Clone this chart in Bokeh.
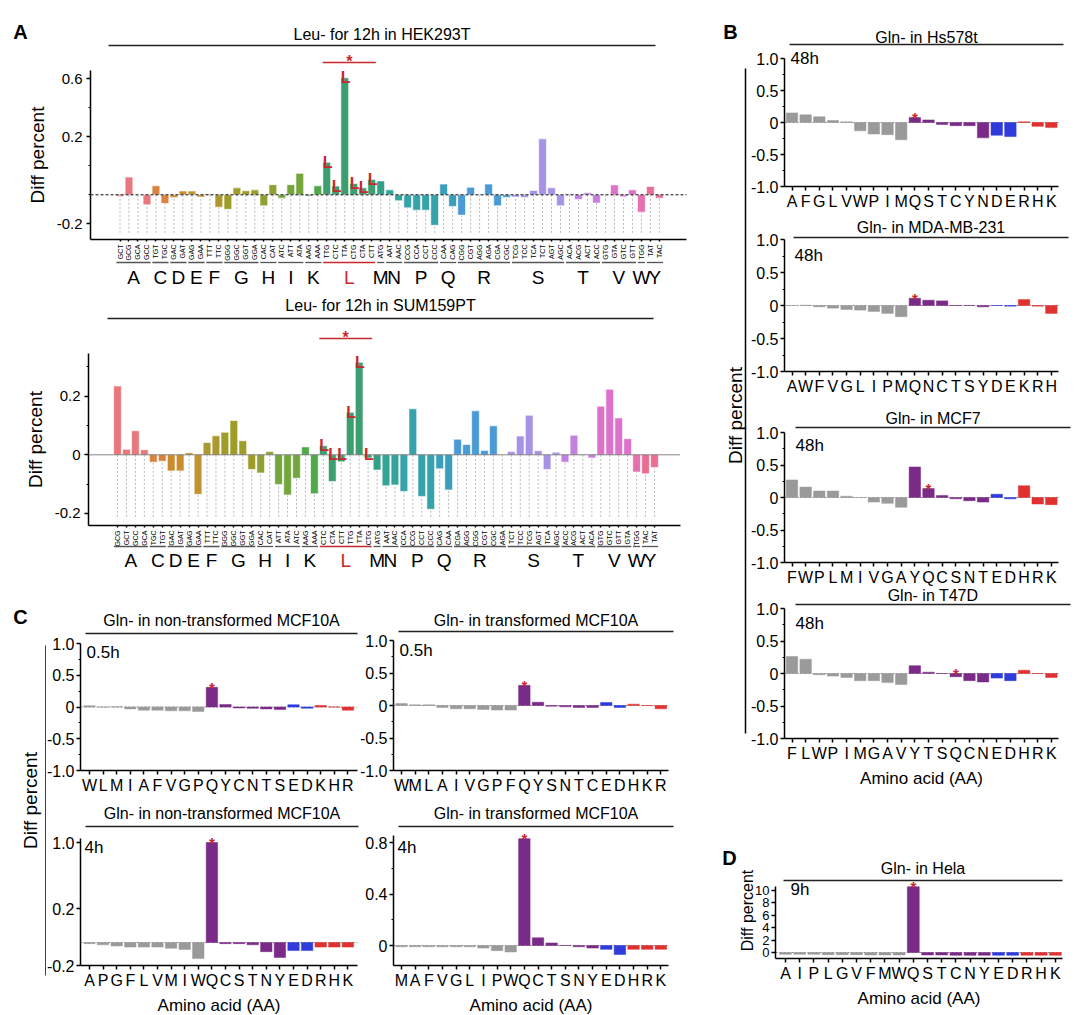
import numpy as np
from bokeh.plotting import figure
from bokeh.models import Range1d, FixedTicker, Label, BoxAnnotation, LinearAxis
from bokeh.layouts import row, column
from bokeh.embed import file_html
from bokeh.resources import INLINE

FONT = "Liberation Sans"
RED = "#C8282C"

# ---------------- data ----------------
GENETIC = {"GCT": "A", "GCC": "A", "GCA": "A", "GCG": "A", "TGT": "C", "TGC": "C", "GAT": "D", "GAC": "D",
           "GAA": "E", "GAG": "E", "TTT": "F", "TTC": "F", "GGT": "G", "GGC": "G", "GGA": "G", "GGG": "G",
           "CAT": "H", "CAC": "H", "ATT": "I", "ATC": "I", "ATA": "I", "AAA": "K", "AAG": "K", "TTA": "L",
           "TTG": "L", "CTT": "L", "CTC": "L", "CTA": "L", "CTG": "L", "ATG": "M", "AAT": "N", "AAC": "N",
           "CCT": "P", "CCC": "P", "CCA": "P", "CCG": "P", "CAA": "Q", "CAG": "Q", "CGT": "R", "CGC": "R",
           "CGA": "R", "CGG": "R", "AGA": "R", "AGG": "R", "TCT": "S", "TCC": "S", "TCA": "S", "TCG": "S",
           "AGT": "S", "AGC": "S", "ACT": "T", "ACC": "T", "ACA": "T", "ACG": "T", "GTT": "V", "GTC": "V",
           "GTA": "V", "GTG": "V", "TGG": "W", "TAT": "Y", "TAC": "Y"}

A1_CODONS = ["GCT", "GCG", "GCA", "GCC", "TGT", "TGC", "GAC", "GAT", "GAG", "GAA", "TTT", "TTC", "GGG", "GGC",
             "GGT", "GGA", "CAC", "CAT", "ATC", "ATT", "ATA", "AAG", "AAA", "TTG", "CTC", "TTA", "CTG", "CTA",
             "CTT", "ATG", "AAT", "AAC", "CCG", "CCA", "CCT", "CCC", "CAA", "CAG", "CGG", "CGT", "AGG", "AGA",
             "CGA", "CGC", "TCG", "TCC", "TCA", "TCT", "AGT", "AGC", "ACA", "ACG", "ACT", "ACC", "GTG", "GTA",
             "GTC", "GTT", "TGG", "TAT", "TAC"]
A1_VALUES = [-0.01, 0.061, 0.0, -0.069, 0.031, -0.06, -0.018, 0.013, 0.013, -0.016, 0.003, -0.085, -0.10,
             0.024, 0.014, 0.017, -0.076, 0.035, -0.023, 0.035, 0.074, -0.009, 0.031, 0.112, 0.030, 0.607,
             0.039, 0.024, 0.053, 0.048, 0.017, -0.041, -0.090, -0.106, -0.106, -0.21, 0.037, -0.08, -0.14,
             0.026, -0.002, 0.037, -0.076, -0.018, -0.016, -0.018, 0.015, 0.193, 0.024, -0.076, 0.002, -0.032,
             0.007, -0.057, 0.001, 0.034, -0.014, 0.017, -0.12, 0.029, -0.023]

A2_CODONS = ["GCG", "GCT", "GCC", "GCA", "TGC", "TGT", "GAC", "GAT", "GAG", "GAA", "TTT", "TTC", "GGG", "GGC",
             "GGT", "GGA", "CAC", "CAT", "ATT", "ATA", "ATC", "AAG", "AAA", "CTC", "CTA", "CTT", "TTG", "TTA",
             "CTG", "ATG", "AAT", "AAC", "CCA", "CCG", "CCT", "CCC", "CAG", "CAA", "CGA", "AGG", "CGG", "CGT",
             "CGC", "AGA", "TCT", "TCC", "TCG", "AGT", "TCA", "AGC", "ACC", "ACG", "ACT", "ACA", "GTG", "GTC",
             "GTT", "GTA", "TGG", "TAC", "TAT"]
A2_VALUES = [0.235, 0.019, 0.082, 0.017, -0.025, -0.022, -0.055, -0.055, 0.007, -0.135, 0.042, 0.065, 0.077,
             0.117, 0.048, -0.05, -0.062, 0.011, -0.101, -0.137, -0.08, 0.027, -0.133, 0.031, -0.091, -0.024,
             0.145, 0.316, -0.011, -0.052, -0.106, -0.103, -0.125, 0.157, -0.142, -0.186, -0.048, -0.12, 0.053,
             0.035, 0.15, 0.015, 0.099, 0.0, 0.011, 0.064, 0.135, 0.014, -0.05, 0.009, -0.025, 0.067, 0.002,
             -0.011, 0.166, 0.224, 0.126, 0.055, -0.059, -0.065, -0.043]

B1_AA = list("AFGLVWPIMQSTCYNDERHK")
B1_VALUES = [0.15, 0.12, 0.09, 0.03, 0.01, -0.13, -0.18, -0.19, -0.27, 0.08, 0.04, -0.03, -0.05, -0.05, -0.24,
             -0.20, -0.22, 0.01, -0.06, -0.08]
B2_AA = list("AWFVGLIPMQNCTSYDEKRH")
B2_VALUES = [0.0, 0.005, -0.02, -0.04, -0.06, -0.07, -0.09, -0.12, -0.17, 0.11, 0.08, 0.07, 0.0, 0.0, -0.02,
             0.0, -0.01, 0.09, -0.01, -0.12]
B3_AA = list("FWPLMIVGAYQCSNTEDHRK")
B3_VALUES = [0.27, 0.16, 0.10, 0.10, 0.02, 0.0, -0.07, -0.09, -0.15, 0.47, 0.14, 0.03, -0.02, -0.05, -0.07,
             0.05, -0.02, 0.18, -0.10, -0.11]
B4_AA = list("FLWPIMGAVYTSQCNEDHRK")
B4_VALUES = [0.26, 0.22, -0.02, -0.04, -0.06, -0.11, -0.11, -0.14, -0.17, 0.12, 0.02, 0.0, -0.05, -0.11, -0.13,
             -0.07, -0.11, 0.05, 0.0, -0.06]
C1_AA = list("WLMIAFVGPQYCNTSEDKHR")
C1_VALUES = [0.02, 0.0, 0.005, -0.03, -0.05, -0.05, -0.06, -0.06, -0.07, 0.31, 0.04, -0.015, -0.02, -0.03,
             -0.04, 0.035, -0.02, 0.025, 0.0, -0.05]
C2_AA = list("WMLAIVGPFQYSNTCEDHKR")
C2_VALUES = [0.03, 0.01, 0.01, -0.03, -0.05, -0.05, -0.06, -0.07, -0.07, 0.31, 0.05, -0.01, -0.02, -0.03,
             -0.03, 0.045, -0.03, 0.02, 0.0, -0.05]
C3_AA = list("APGFLVMIWQCSTNYEDRHK")
C3_VALUES = [-0.01, -0.02, -0.03, -0.04, -0.04, -0.04, -0.05, -0.06, -0.14, 1.0, -0.01, -0.01, -0.02, -0.08,
             -0.13, -0.07, -0.07, -0.04, -0.04, -0.04]
C4_AA = list("MAFVGLIPWQCTSNYEDHRK")
C4_VALUES = [-0.01, -0.01, -0.01, -0.01, -0.01, -0.01, -0.02, -0.04, -0.05, 0.83, 0.06, 0.02, 0.0, -0.01,
             -0.02, -0.03, -0.07, -0.03, -0.03, -0.03]
D_AA = list("AIPLGVFMWQSTCNYEDRHK")
D_VALUES = [-0.3, -0.3, -0.3, -0.35, -0.35, -0.35, -0.4, -0.4, -0.4, 10.6, -0.4, -0.4, -0.45, -0.45, -0.45,
            -0.45, -0.45, -0.45, -0.45, -0.45]

AA_COLORS = {"A": "#E7787E", "C": "#DA8240", "D": "#CC8C2E", "E": "#C29330", "F": "#AD9830", "G": "#9E9D2A",
             "H": "#8EA233", "I": "#74A63D", "K": "#4FA84B", "L": "#3D9E6F", "M": "#33A085", "N": "#34A398",
             "P": "#36A2A9", "Q": "#399FBB", "R": "#4A9AD6", "S": "#A693E6", "T": "#C480DF", "V": "#DD72CB",
             "W": "#E570B1", "Y": "#E86F92"}
CLASS_COLORS = {}
for _a in "AFGLVWPIM":
    CLASS_COLORS[_a] = "#9A9A9A"
for _a in "QSTCYN":
    CLASS_COLORS[_a] = "#7A2A87"
for _a in "DE":
    CLASS_COLORS[_a] = "#2F3BDB"
for _a in "RHK":
    CLASS_COLORS[_a] = "#E03131"


# ---------------- geometry helper ----------------
class Geo:
    """Figure box (L, T, W, H) on the page; index-0 bar at X0 with spacing dx;
    value 0 at pixel row Y0 with k pixels per unit; axis corner and extents."""

    def __init__(self, L, T, W, H, X0, dx, Y0, k, axX, axR, axT, axB):
        self.L, self.T, self.W, self.H = L, T, W, H
        self.X0, self.dx, self.Y0, self.k = X0, dx, Y0, k
        self.axX, self.axR, self.axT, self.axB = axX, axR, axT, axB

    def xd(self, X):
        return (X - self.X0) / self.dx

    def yd(self, Y):
        return (self.Y0 - Y) / self.k


def make_fig(g):
    p = figure(width=g.W, height=g.H, x_range=Range1d(g.xd(g.L), g.xd(g.L + g.W)),
               y_range=Range1d(g.yd(g.T + g.H), g.yd(g.T)), output_backend="svg", toolbar_location=None,
               title=None, min_border=0, x_axis_location=None, y_axis_location=None)
    p.outline_line_color = None
    p.grid.visible = False
    p.background_fill_color = "white"
    p.border_fill_color = "white"
    return p


def style_axis(ax, size):
    ax.axis_line_color = "black"
    ax.axis_line_width = 1.5
    ax.major_tick_line_color = "black"
    ax.major_tick_line_width = 1.5
    ax.major_tick_in = 0
    ax.major_tick_out = 4
    ax.minor_tick_line_color = "black"
    ax.minor_tick_line_width = 1.2
    ax.minor_tick_in = 0
    ax.minor_tick_out = 2
    ax.major_label_standoff = 2
    ax.major_label_text_font = FONT
    ax.major_label_text_font_size = f"{size}px"
    ax.major_label_text_color = "black"
    ax.axis_label_text_font = FONT
    ax.axis_label_text_font_style = "normal"
    ax.axis_label_text_color = "black"


def add_axes(p, g, cats, ytick_pos, ytick_labels, yminor, xsize, ysize):
    yax = LinearAxis(fixed_location=g.xd(g.axX), bounds=(g.yd(g.axB), g.yd(g.axT)),
                     ticker=FixedTicker(ticks=list(ytick_pos), minor_ticks=list(yminor)),
                     major_label_overrides={float(t): lab for t, lab in zip(ytick_pos, ytick_labels)})
    style_axis(yax, ysize)
    p.add_layout(yax, "left")
    n = len(cats)
    xax = LinearAxis(fixed_location=g.yd(g.axB), bounds=(g.xd(g.axX), g.xd(g.axR)),
                     ticker=FixedTicker(ticks=list(range(n)), minor_ticks=[]),
                     major_label_overrides={i: c for i, c in enumerate(cats)})
    style_axis(xax, xsize)
    p.add_layout(xax, "below")
    return xax, yax


def txt(p, g, X, Y, text, size, color="black", align="center", baseline="middle", bold=False, angle=0.0):
    p.add_layout(Label(x=g.xd(X), y=g.yd(Y), text=text, text_font=FONT, text_font_size=f"{size}px",
                       text_color=color, text_align=align, text_baseline=baseline,
                       text_font_style="bold" if bold else "normal", angle=angle))


def hline(p, g, X0, X1, Y, color="#222222", w=1.5):
    p.add_layout(BoxAnnotation(left=g.xd(X0), right=g.xd(X1), bottom=g.yd(Y + w / 2), top=g.yd(Y - w / 2),
                               fill_color=color, fill_alpha=1.0, line_alpha=0.0))


def idx_hline(p, g, x0, x1, Y, color, w=1.3):
    p.add_layout(BoxAnnotation(left=x0, right=x1, bottom=g.yd(Y + w / 2), top=g.yd(Y - w / 2),
                               fill_color=color, fill_alpha=1.0, line_alpha=0.0))


def codon_panel(g, codons, vals, av, ap, major_v, minor_p, floor_p, zero_dash, title, title_y,
                tl_x0, tl_x1, tl_y, red_y, ul_y, let_y):
    n = len(codons)
    idx = np.arange(n)
    pos = np.interp(vals, av, ap)
    p = make_fig(g)
    p.segment(x0=idx, y0=np.zeros(n), x1=idx, y1=np.full(n, floor_p), line_color="#b8b8b8",
              line_dash="2 2", line_width=1)
    aas = [GENETIC[c] for c in codons]
    cols = [AA_COLORS[a] for a in aas]
    p.vbar(x=idx, top=pos, bottom=0, width=0.86, fill_color=cols, line_color="white", line_width=0.6)
    p.segment(x0=[g.xd(g.axX)], y0=[0.0], x1=[g.xd(g.axR)], y1=[0.0], line_color="#111111",
              line_dash=zero_dash, line_width=1)
    tick_p = [float(np.interp(v, av, ap)) for v in major_v]
    xax, yax = add_axes(p, g, codons, tick_p, [f"{v:g}" for v in major_v], minor_p, 7, 15)
    xax.major_label_orientation = np.pi / 2
    xax.major_tick_out = 2
    xax.major_label_standoff = 3
    yax.axis_label = "Diff percent"
    yax.axis_label_text_font_size = "19px"
    yax.axis_label_standoff = 6
    yax.major_label_standoff = 4
    txt(p, g, (tl_x0 + tl_x1) / 2, title_y, title, 16)
    hline(p, g, tl_x0, tl_x1, tl_y)
    groups = []
    for i, a in enumerate(aas):
        if groups and groups[-1][0] == a:
            groups[-1][2] = i
        else:
            groups.append([a, i, i])
    for a, i0, i1 in groups:
        col = RED if a == "L" else "#555555"
        idx_hline(p, g, i0 - 0.4, i1 + 0.4, ul_y, col, 1.3)
        p.add_layout(Label(x=(i0 + i1) / 2, y=g.yd(let_y), text=a, text_font=FONT, text_font_size="19px",
                           text_color=RED if a == "L" else "black", text_align="center",
                           text_baseline="middle"))
    l_idx = [i for i, a in enumerate(aas) if a == "L"]
    for i in l_idx:
        p.add_layout(Label(x=i - 0.45, y=max(float(pos[i]), 0.0), text="L", text_font=FONT,
                           text_font_size="16px", text_color=RED, text_align="left",
                           text_baseline="alphabetic", text_font_style="bold"))
    idx_hline(p, g, l_idx[0] - 0.45, l_idx[-1] + 0.45, red_y, RED, 1.3)
    p.add_layout(Label(x=(l_idx[0] + l_idx[-1]) / 2, y=g.yd(red_y - 1), text="*", text_font=FONT,
                       text_font_size="16px", text_color=RED, text_align="center",
                       text_baseline="alphabetic", text_font_style="bold"))
    return p


def aa_panel(g, cats, vals, ticks, labels, minor, title, title_y, tl_x0, tl_x1, tl_y, tlabel, tlx, tly,
             tick_size=16, xlabel=None, av=None, ap=None):
    n = len(cats)
    idx = np.arange(n)
    pos = np.interp(vals, av, ap) if av is not None else np.asarray(vals, dtype=float)
    p = make_fig(g)
    p.segment(x0=[g.xd(g.axX)], y0=[0.0], x1=[g.xd(g.axR)], y1=[0.0], line_color="#8a8a8a",
              line_dash="2 2", line_width=1)
    cols = [CLASS_COLORS[a] for a in cats]
    p.vbar(x=idx, top=pos, bottom=0, width=0.84, fill_color=cols, line_color=cols, line_width=0.5)
    tp = [float(np.interp(t, av, ap)) if av is not None else float(t) for t in ticks]
    xax, yax = add_axes(p, g, cats, tp, labels, minor, 16, tick_size)
    if xlabel:
        xax.axis_label = xlabel
        xax.axis_label_text_font_size = "17px"
        xax.axis_label_standoff = 4
    txt(p, g, (tl_x0 + tl_x1) / 2, title_y, title, 16)
    hline(p, g, tl_x0, tl_x1, tl_y)
    txt(p, g, tlx, tly, tlabel, 17, align="left")
    qi = list(cats).index("Q")
    p.add_layout(Label(x=qi, y=max(float(pos[qi]), 0.0), text="*", text_font=FONT, text_font_size="15px",
                       text_color=RED, text_align="center", text_baseline="alphabetic",
                       text_font_style="bold"))
    return p


def strip(W, H):
    p = figure(width=W, height=H, x_range=Range1d(0, W), y_range=Range1d(H, 0), output_backend="svg",
               toolbar_location=None, title=None, min_border=0, x_axis_location=None, y_axis_location=None)
    p.outline_line_color = None
    p.grid.visible = False
    return p


def strip_label(p, x, y, text, size, bold=False, angle=0.0):
    p.add_layout(Label(x=x, y=y, text=text, text_font=FONT, text_font_size=f"{size}px", text_color="black",
                       text_align="center", text_baseline="middle", angle=angle,
                       text_font_style="bold" if bold else "normal"))


# ---------------- panel A ----------------
gA1 = Geo(0, 0, 715, 290, 119.5, 8.99, 194.3, 290, 90, 686, 70, 239)
pA1 = codon_panel(gA1, A1_CODONS, A1_VALUES, [-1.0, 0.0, 0.2, 1.0], [-0.5, 0.0, 0.2, 0.6],
                  [0.6, 0.2, -0.2], [0.3, 0.1, 0.0], -0.131, "3 2", "Leu- for 12h in HEK293T", 34,
                  108, 655, 45, 62, 262, 277)
txt(pA1, gA1, 20, 31, "A", 20, bold=True)

gA2 = Geo(0, 290, 715, 285, 117, 8.95, 454.3, 293, 88, 680, 353, 525)
pA2 = codon_panel(gA2, A2_CODONS, A2_VALUES, [-1.0, 1.0], [-1.0, 1.0],
                  [0.2, 0.0, -0.2], [0.3, 0.1, -0.1], -0.214, "1 1", "Leu- for 12h in SUM159PT", 305,
                  107, 653, 318, 338, 546, 560)

# ---------------- panel B ----------------
B_TICKS = [-1.0, -0.5, 0.0, 0.5, 1.0]
B_LABELS = ["-1.0", "-0.5", "0", "0.5", "1.0"]
B_MINOR = [-0.75, -0.25, 0.25, 0.75]

gB1 = Geo(750, 0, 330, 213, 791.5, 13.65, 122, 64, 784, 1058, 58, 186)
pB1 = aa_panel(gB1, B1_AA, B1_VALUES, B_TICKS, B_LABELS, B_MINOR, "Gln- in Hs578t", 37,
               789, 1063, 44, "48h", 790, 58)
gB2 = Geo(750, 213, 330, 183, 791.5, 13.65, 305, 66, 784, 1058, 239, 371)
pB2 = aa_panel(gB2, B2_AA, B2_VALUES, B_TICKS, B_LABELS, B_MINOR, "Gln- in MDA-MB-231", 227,
               793, 1068, 237, "48h", 794, 255)
gB3 = Geo(750, 396, 330, 191, 791.5, 13.65, 497, 65, 784, 1058, 432, 562)
pB3 = aa_panel(gB3, B3_AA, B3_VALUES, B_TICKS, B_LABELS, B_MINOR, "Gln- in MCF7", 418,
               795, 1070, 427, "48h", 795, 445)
gB4 = Geo(750, 587, 330, 203, 791.5, 13.65, 673, 65, 784, 1058, 608, 738)
pB4 = aa_panel(gB4, B4_AA, B4_VALUES, B_TICKS, B_LABELS, B_MINOR, "Gln- in T47D", 595,
               795, 1070, 604, "48h", 795, 623, xlabel="Amino acid (AA)")

pBs = strip(35, 790)
pBs.segment(x0=[30], y0=[68], x1=[30], y1=[733], line_color="black", line_width=1.5)
strip_label(pBs, 15, 31, "B", 20, bold=True)
strip_label(pBs, 20, 415, "Diff percent", 19, angle=np.pi / 2)

# ---------------- panel C ----------------
gC1 = Geo(46, 575, 314, 225, 89, 13.6, 706.5, 63.5, 80, 357, 643, 770)
pC1 = aa_panel(gC1, C1_AA, C1_VALUES, B_TICKS, B_LABELS, B_MINOR,
               "Gln- in non-transformed MCF10A", 620, 85, 357, 633, "0.5h", 86, 652)
gC2 = Geo(360, 575, 355, 225, 401, 13.65, 705, 65, 393, 668, 640, 770)
pC2 = aa_panel(gC2, C2_AA, C2_VALUES, B_TICKS, B_LABELS, B_MINOR,
               "Gln- in transformed MCF10A", 620, 398, 673, 631, "0.5h", 399, 650)
gC3 = Geo(46, 800, 314, 215, 89, 13.6, 942, 100, 80, 357, 838, 965)
pC3 = aa_panel(gC3, C3_AA, C3_VALUES, [-0.2, 0.2, 1.0], ["-0.2", "0.2", "1.0"], [],
               "Gln- in non-transformed MCF10A", 813, 85, 358, 826, "4h", 84, 847,
               xlabel="Amino acid (AA)", av=[-1.0, 0.0, 0.2, 1.0], ap=[-1.15, 0.0, 0.34, 1.0])
gC4 = Geo(360, 800, 355, 215, 401, 13.65, 945, 128.75, 393, 668, 835, 965)
pC4 = aa_panel(gC4, C4_AA, C4_VALUES, [0.0, 0.4, 0.8], ["0", "0.4", "0.8"], [0.2, 0.6],
               "Gln- in transformed MCF10A", 813, 398, 673, 826, "4h", 397, 847,
               xlabel="Amino acid (AA)")

pCs = strip(46, 440)
pCs.segment(x0=[45.5], y0=[70], x1=[45.5], y1=[400], line_color="black", line_width=1.5)
strip_label(pCs, 20, 41, "C", 20, bold=True)
strip_label(pCs, 30, 225, "Diff percent", 19, angle=np.pi / 2)

# ---------------- panel D ----------------
gD = Geo(715, 790, 365, 225, 785, 14.2, 952, 6.2, 775, 1062, 886, 958)
pD = aa_panel(gD, D_AA, D_VALUES, [0, 2, 4, 6, 8, 10], ["0", "2", "4", "6", "8", "10"], [],
              "Gln- in Hela", 868, 783, 1062, 880, "9h", 790, 889, tick_size=13,
              xlabel="Amino acid (AA)")
txt(pD, gD, 729, 857, "D", 20, bold=True)
txt(pD, gD, 747, 910, "Diff percent", 16, angle=np.pi / 2)

# ---------------- layout ----------------
left = column(pA1, pA2, row(pCs, column(row(pC1, pC2), row(pC3, pC4))))
right = column(row(pBs, column(pB1, pB2, pB3, pB4)), pD)
page = row(left, right)

open("out.html", "w").write(file_html(page, INLINE))
